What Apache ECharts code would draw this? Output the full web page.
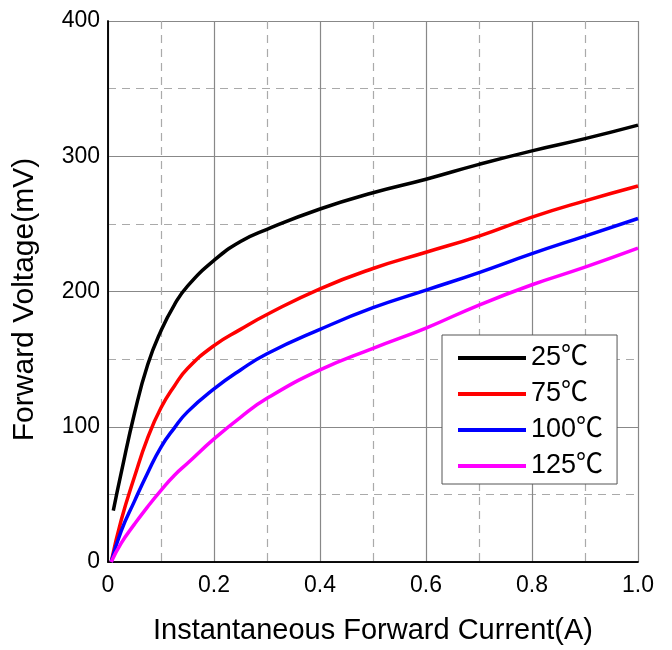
<!DOCTYPE html>
<html>
<head>
<meta charset="utf-8">
<script src="https://cdn.jsdelivr.net/npm/echarts@6/dist/echarts.min.js"></script>
<style>html,body{margin:0;padding:0;background:#fff}#c{width:672px;height:650px}</style>
</head>
<body>
<div id="c"></div>
<script>
var current = [0.006, 0.025, 0.05, 0.075, 0.1, 0.125, 0.15, 0.2, 0.25, 0.3, 0.4, 0.5, 0.6, 0.7, 0.8, 0.9, 1.0];
var current25 = [0.01, 0.025, 0.05, 0.075, 0.1, 0.125, 0.15, 0.2, 0.25, 0.3, 0.4, 0.5, 0.6, 0.7, 0.8, 0.9, 1.0];
var v25 = [38, 66, 110, 146, 171, 190, 204, 223, 237, 246, 261, 273, 283, 294, 304, 313, 323];
var v75 = [0, 31, 63, 92, 114, 130, 143, 160, 172, 183, 202, 217, 229, 241, 255, 267, 278];
var v100 = [0, 23, 45, 66, 85, 99, 111, 128, 142, 154, 172, 188, 201, 214, 228, 241, 254];
var v125 = [0, 14, 28, 41, 53, 64, 73, 91, 107, 121, 142, 158, 173, 190, 205, 218, 232];
var seriesNames = ['25℃', '75℃', '100℃', '125℃'];
var seriesColors = ['#000000', '#ff0000', '#0000ff', '#ff00ff'];
var xTicks = [0, 0.2, 0.4, 0.6, 0.8, 1.0];
var yTicks = [0, 100, 200, 300, 400];

function pairs(xs, ys) { return xs.map(function (x, i) { return [x, ys[i]]; }); }
var FONT = 'Liberation Sans, Arial, sans-serif';
var data = [pairs(current25, v25), pairs(current, v75), pairs(current, v100), pairs(current, v125)];

var chart = echarts.init(document.getElementById('c'));
chart.setOption({
  animation: false,
  backgroundColor: '#fff',
  grid: { left: 108, right: 34, top: 21, bottom: 85 },
  legend: {
    orient: 'vertical', left: 442, top: 335,
    padding: [8, 14, 3, 16],
    icon: 'rect',
    itemWidth: 68, itemHeight: 4, itemGap: 6,
    borderColor: '#555', borderWidth: 1, backgroundColor: '#fff',
    data: seriesNames,
    textStyle: { fontSize: 27, lineHeight: 30, color: '#000', fontFamily: 'Liberation Sans, Noto Sans CJK SC, sans-serif' }
  },
  xAxis: [{
    type: 'value', min: xTicks[0], max: xTicks[xTicks.length - 1], interval: 0.2,
    name: 'Instantaneous Forward Current(A)', nameLocation: 'middle', nameGap: 54,
    nameTextStyle: { fontSize: 29, color: '#000', fontFamily: FONT },
    axisLine: { lineStyle: { color: '#000', width: 1.5 } },
    axisTick: { show: false },
    axisLabel: { fontSize: 23, color: '#000', margin: 12, fontFamily: FONT,
      formatter: function (v) { return v === 0 ? '0' : v.toFixed(1); } },
    splitLine: { show: true, lineStyle: { color: '#888', width: 1.2 } },
    minorTick: { show: false, splitNumber: 2 },
    minorSplitLine: { show: true, lineStyle: { color: '#aaa', width: 1.2, type: [8, 6] } }
  }, {
    type: 'value', position: 'top', min: 0, max: 1,
    axisLine: { show: true, lineStyle: { color: '#000', width: 1.5 } },
    axisTick: { show: false }, axisLabel: { show: false }, splitLine: { show: false }
  }],
  yAxis: [{
    type: 'value', min: yTicks[0], max: yTicks[yTicks.length - 1], interval: 100,
    name: 'Forward Voltage(mV)', nameLocation: 'middle', nameGap: 68,
    nameTextStyle: { fontSize: 30, color: '#000', fontFamily: FONT, padding: [0, 16, 0, 0] },
    axisLine: { show: true, lineStyle: { color: '#000', width: 1.5 } },
    axisTick: { show: false },
    axisLabel: { fontSize: 23, color: '#000', margin: 8, fontFamily: FONT },
    splitLine: { show: true, lineStyle: { color: '#888', width: 1.2 } },
    minorTick: { show: false, splitNumber: 2 },
    minorSplitLine: { show: true, lineStyle: { color: '#aaa', width: 1.2, type: [8, 6] } }
  }, {
    type: 'value', position: 'right', min: 0, max: 400,
    axisLine: { show: true, lineStyle: { color: '#000', width: 1.5 } },
    axisTick: { show: false }, axisLabel: { show: false }, splitLine: { show: false }
  }],
  series: seriesNames.map(function (n, i) {
    return {
      name: n, type: 'line', data: data[i], xAxisIndex: 0, yAxisIndex: 0,
      smooth: 0.5, symbol: 'none',
      lineStyle: { color: seriesColors[i], width: 3.5 },
      itemStyle: { color: seriesColors[i] }
    };
  })
});
</script>
</body>
</html>
